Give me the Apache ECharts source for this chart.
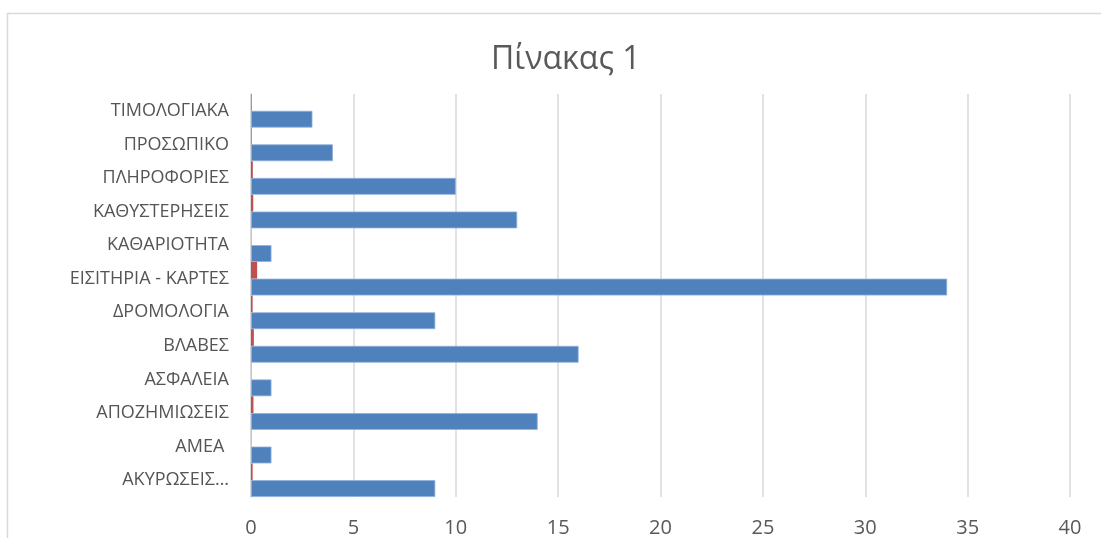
<!DOCTYPE html>
<html>
<head>
<meta charset="utf-8">
<script src="https://cdn.jsdelivr.net/npm/echarts@6/dist/echarts.min.js"></script>
<style>
html,body{margin:0;padding:0;background:#fff;}
#chart{width:1101px;height:538px;}
</style>
</head>
<body>
<div id="chart"></div>
<script>
const categories = ['ΑΚΥΡΩΣΕΙΣ…', 'ΑΜΕΑ ', 'ΑΠΟΖΗΜΙΩΣΕΙΣ', 'ΑΣΦΑΛΕΙΑ', 'ΒΛΑΒΕΣ', 'ΔΡΟΜΟΛΟΓΙΑ', 'ΕΙΣΙΤΗΡΙΑ - ΚΑΡΤΕΣ', 'ΚΑΘΑΡΙΟΤΗΤΑ', 'ΚΑΘΥΣΤΕΡΗΣΕΙΣ', 'ΠΛΗΡΟΦΟΡΙΕΣ', 'ΠΡΟΣΩΠΙΚΟ', 'ΤΙΜΟΛΟΓΙΑΚΑ'];
const countValues = [9, 1, 14, 1, 16, 9, 34, 1, 13, 10, 4, 3];
const shareValues = [0.08, 0.01, 0.12, 0.01, 0.14, 0.08, 0.30, 0.01, 0.11, 0.09, 0.03, 0.03];
const xTicks = [0, 5, 10, 15, 20, 25, 30, 35, 40];
const titleText = 'Πίνακας 1';

const FONT = 'Open Sans';
const chart = echarts.init(document.getElementById('chart'));
chart.setOption({
  animation: false,
  backgroundColor: '#fff',
  title: {
    text: titleText, left: 486, top: 39,
    textStyle: { fontFamily: FONT, fontSize: 32, fontWeight: 'normal', color: '#595959' }
  },
  graphic: [{
    type: 'rect', shape: { x: 7.5, y: 13.5, width: 1200, height: 600 },
    style: { fill: 'none', stroke: '#d9d9d9', lineWidth: 1.5 }, silent: true, z: -1
  }],
  grid: { left: 251, right: 31, top: 94, bottom: 41, containLabel: false },
  xAxis: {
    type: 'value', min: xTicks[0], max: xTicks[xTicks.length - 1], interval: 5,
    axisLine: { show: false }, axisTick: { show: false },
    splitLine: { lineStyle: { color: '#d9d9d9', width: 1.5 } },
    axisLabel: { fontFamily: FONT, fontSize: 20, color: '#595959', margin: 21 }
  },
  yAxis: {
    type: 'category', data: categories,
    axisLine: { show: true, lineStyle: { color: '#d9d9d9', width: 1.5 } },
    axisTick: { show: false },
    axisLabel: { fontFamily: FONT, fontSize: 18, color: '#555555', margin: 22 }
  },
  series: [
    {
      name: 'share', type: 'bar', data: shareValues,
      barGap: '0%', barCategoryGap: '0%',
      itemStyle: { color: '#C0504D' }
    },
    {
      name: 'count', type: 'bar', data: countValues,
      barGap: '0%', barCategoryGap: '0%',
      itemStyle: { color: '#4F81BD', borderColor: '#8eb0db', borderWidth: 0.8 }
    }
  ]
});
</script>
</body>
</html>
